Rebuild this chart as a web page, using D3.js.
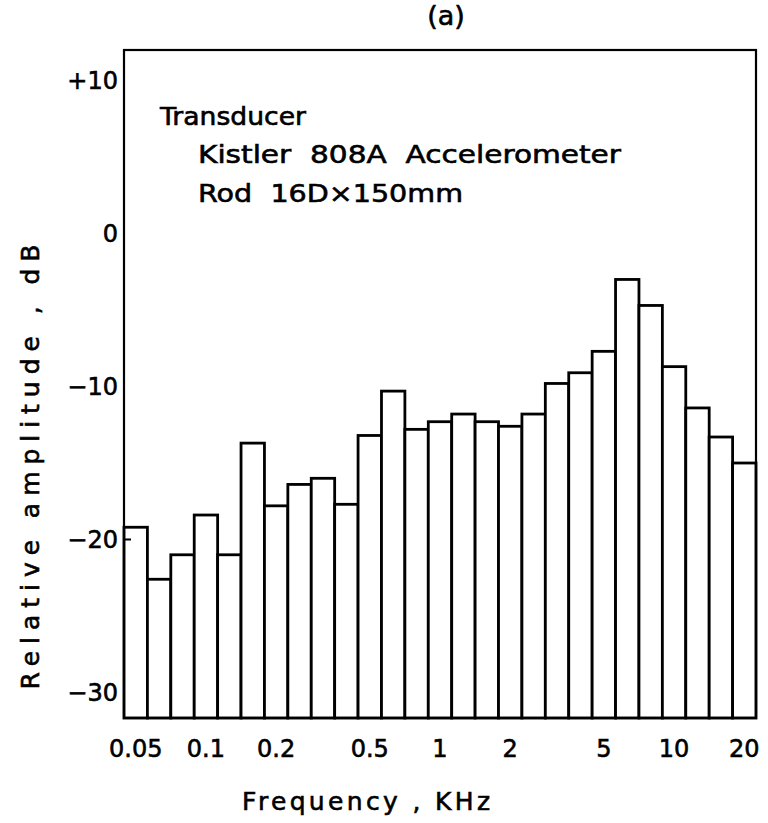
<!doctype html>
<html lang="en">
  <head>
    <meta charset="utf-8">
    <title>Relative amplitude vs frequency (a)</title>
    <script src="https://d3js.org/d3.v7.min.js"></script>
    <style>
      body { margin: 0; background: #fff; }
      svg text { font-family: "DejaVu Sans", sans-serif; fill: #000; stroke: #000; stroke-width: 0.6px; white-space: pre; }
    </style>
  </head>
  <body>
    <div id="chart"></div>
    <script>

      // 1/3 octave band centre frequencies, kHz
      const bands = ["0.05", "0.063", "0.08", "0.1", "0.125", "0.16", "0.2", "0.25", "0.315",
        "0.4", "0.5", "0.63", "0.8", "1", "1.25", "1.6", "2", "2.5", "3.15",
        "4", "5", "6.3", "8", "10", "12.5", "16", "20"];

      // relative amplitude per band, dB
      const amplitude = [-19.2, -22.6, -21.0, -18.4, -21.0, -13.7, -17.8, -16.4, -16.0,
        -17.7, -13.2, -10.3, -12.8, -12.3, -11.8, -12.3, -12.6, -11.8, -9.8,
        -9.1, -7.7, -3.0, -4.7, -8.7, -11.4, -13.3, -15.0];

      const xTicks = ["0.05", "0.1", "0.2", "0.5", "1", "2", "5", "10", "20"];
      const yTicks = [10, 0, -10, -20, -30];

      const data = bands.map((b, i) => ({band: b, value: amplitude[i]}));

      // plot frame
      const W = 768, H = 823;
      const frame = {left: 124, right: 756, top: 50, bottom: 718};
      const yMin = -31.67, yMax = 12;

      const svg = d3.select("#chart")
        .append("svg")
          .attr("width", W)
          .attr("height", H);

      const x = d3.scaleBand()
        .domain(bands)
        .range([frame.left, frame.right])
        .padding(0);

      const y = d3.scaleLinear()
        .domain([yMin, yMax])
        .range([frame.bottom, frame.top]);

      // bars
      svg.selectAll("rect.bar")
        .data(data)
        .enter()
        .append("rect")
          .attr("class", "bar")
          .attr("x", d => x(d.band))
          .attr("y", d => y(d.value))
          .attr("width", x.bandwidth())
          .attr("height", d => y(yMin) - y(d.value))
          .attr("fill", "#fff")
          .attr("stroke", "#000")
          .attr("stroke-width", 2.8);

      // frame
      svg.append("rect")
        .attr("x", frame.left)
        .attr("y", frame.top)
        .attr("width", frame.right - frame.left)
        .attr("height", frame.bottom - frame.top)
        .attr("fill", "none")
        .attr("stroke", "#000")
        .attr("stroke-width", 2.2);

      // x axis labels
      const xAxis = svg.append("g")
        .attr("transform", `translate(0,${frame.bottom})`)
        .call(d3.axisBottom(x).tickValues(xTicks).tickSize(0).tickPadding(22));
      xAxis.select(".domain").remove();
      xAxis.selectAll("text")
        .attr("font-size", 24)
        .style("font-family", "DejaVu Sans, sans-serif");

      // y axis labels
      const yAxis = svg.append("g")
        .attr("transform", `translate(${frame.left},0)`)
        .call(d3.axisLeft(y).tickValues(yTicks).tickSize(0).tickPadding(6)
          .tickFormat(d => d > 0 ? "+" + d : d3.format("d")(d)));
      yAxis.select(".domain").remove();
      yAxis.selectAll("text")
        .attr("font-size", 24)
        .style("font-family", "DejaVu Sans, sans-serif");

      // small inward tick at -20
      svg.append("line")
        .attr("x1", frame.left)
        .attr("x2", frame.left + 7)
        .attr("y1", y(-20))
        .attr("y2", y(-20))
        .attr("stroke", "#000")
        .attr("stroke-width", 2);

      // panel title
      svg.append("text")
        .attr("x", 446)
        .attr("y", 25)
        .attr("text-anchor", "middle")
        .attr("font-size", 27)
        .text("(a)");

      // transducer note
      const note = [
        {t: "Transducer", x: 160, y: 125, len: 146},
        {t: "Kistler  808A  Accelerometer", x: 198, y: 163, len: 423},
        {t: "Rod  16D\u00d7150mm", x: 198, y: 202, len: 265}
      ];
      svg.selectAll("text.note")
        .data(note)
        .enter()
        .append("text")
          .attr("class", "note")
          .attr("x", d => d.x)
          .attr("y", d => d.y)
          .attr("font-size", 25)
          .attr("textLength", d => d.len)
          .attr("lengthAdjust", "spacingAndGlyphs")
          .text(d => d.t);

      // axis titles
      svg.append("text")
        .attr("x", 366)
        .attr("y", 810)
        .attr("text-anchor", "middle")
        .attr("font-size", 25)
        .attr("textLength", 248)
        .attr("lengthAdjust", "spacing")
        .text("Frequency , KHz");

      svg.append("text")
        .attr("transform", "translate(39,467) rotate(-90)")
        .attr("text-anchor", "middle")
        .attr("font-size", 25)
        .attr("textLength", 445)
        .attr("lengthAdjust", "spacing")
        .text("Relative amplitude , dB");

    </script>
  </body>
</html>
